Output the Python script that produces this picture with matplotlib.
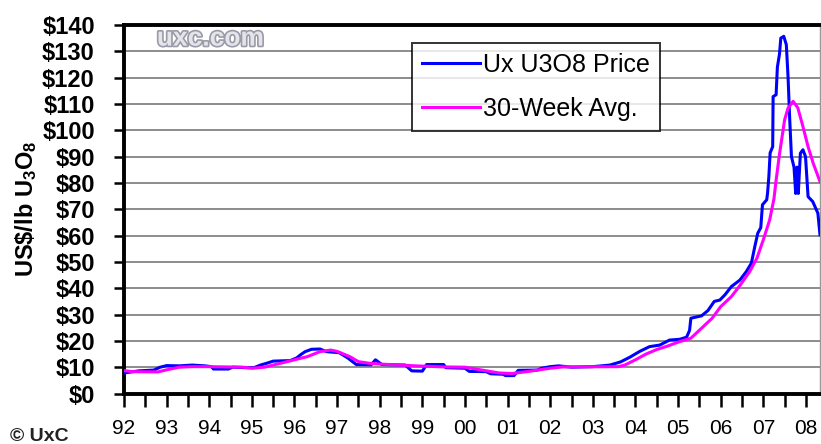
import matplotlib
matplotlib.use("Agg")
import matplotlib.pyplot as plt
import matplotlib.patheffects as pe
from matplotlib.ticker import FixedLocator, FuncFormatter

# Ux U3O8 weekly spot price, decimal year -> US$/lb
price_t = [1992.00, 1992.35, 1992.70, 1992.85, 1993.00, 1993.30, 1993.60, 1993.90,
           1994.05, 1994.10, 1994.45, 1994.55, 1994.90, 1995.05, 1995.20, 1995.35,
           1995.50, 1995.90, 1996.05, 1996.15, 1996.25, 1996.40, 1996.60, 1996.75,
           1997.05, 1997.25, 1997.45, 1997.80, 1997.90, 1998.05, 1998.60, 1998.75,
           1999.00, 1999.10, 1999.50, 1999.55, 2000.00, 2000.10, 2000.50, 2000.60,
           2000.90, 2000.95, 2001.15, 2001.25, 2001.70, 2001.80, 2002.00, 2002.20,
           2002.50, 2003.00, 2003.40, 2003.65, 2003.87, 2004.10, 2004.33, 2004.57,
           2004.80, 2005.04, 2005.20, 2005.27, 2005.30, 2005.55, 2005.70, 2005.85,
           2005.98, 2006.10, 2006.25, 2006.45, 2006.60, 2006.72, 2006.80, 2006.87,
           2006.94, 2006.98, 2007.08, 2007.10, 2007.13, 2007.16, 2007.22, 2007.23,
           2007.30, 2007.33, 2007.38, 2007.41, 2007.48, 2007.54, 2007.58, 2007.62,
           2007.66, 2007.72, 2007.76, 2007.79, 2007.82, 2007.87, 2007.93, 2007.99,
           2008.05, 2008.16, 2008.28, 2008.33]
price = [7.8, 8.6, 8.9, 10.0, 10.6, 10.5, 10.8, 10.5,
         10.2, 9.3, 9.3, 10.0, 9.8, 9.8, 10.8, 11.5,
         12.3, 12.5, 13.5, 14.8, 15.9, 16.8, 16.9, 15.9,
         15.5, 13.5, 11.0, 10.9, 12.8, 11.0, 10.8, 8.6,
         8.5, 11.0, 11.0, 9.8, 9.6, 8.4, 8.3, 7.5,
         7.3, 6.8, 6.8, 8.8, 8.9, 9.6, 10.2, 10.5,
         10.0, 10.2, 10.8, 12.0, 13.8, 16.0, 17.8, 18.4,
         20.3, 20.6, 21.4, 24.0, 28.6, 29.5, 31.5, 35.0,
         35.5, 37.5, 40.6, 43.1, 46.3, 49.5, 55.8, 60.9,
         63.0, 71.7, 73.6, 76.2, 82.4, 91.4, 93.8, 112.8,
         113.5, 124.0, 129.0, 135.0, 135.7, 132.5, 120.4, 104.0,
         90.0, 86.0, 76.0, 86.0, 76.0, 91.3, 92.6, 90.0,
         74.8, 72.9, 68.5, 60.3]

# 30-week moving average
avg_t = [1992.00, 1992.20, 1992.80, 1993.00, 1993.30, 1993.60, 1994.00, 1994.80,
         1995.00, 1995.30, 1995.50, 1995.80, 1996.00, 1996.30, 1996.60, 1996.85,
         1997.00, 1997.30, 1997.50, 1997.75, 1998.00, 1998.85, 1999.50, 2000.00,
         2000.40, 2000.80, 2001.10, 2001.50, 2001.70, 2002.00, 2002.30, 2003.60,
         2003.75, 2004.00, 2004.25, 2004.50, 2004.75, 2005.00, 2005.30, 2005.55,
         2005.80, 2006.00, 2006.25, 2006.45, 2006.68, 2006.85, 2007.00, 2007.15,
         2007.25, 2007.30, 2007.38, 2007.50, 2007.58, 2007.70, 2007.81, 2007.93,
         2008.05, 2008.17, 2008.33]
avg = [8.7, 8.3, 8.2, 9.0, 10.0, 10.2, 10.2, 10.0,
       9.6, 10.0, 10.8, 12.0, 12.8, 14.0, 15.9, 16.5,
       16.0, 14.0, 12.1, 11.5, 11.2, 10.5, 10.1, 10.0,
       8.9, 7.8, 7.6, 8.4, 8.9, 9.6, 10.1, 10.2,
       10.8, 12.8, 15.0, 16.7, 18.0, 19.5, 21.0, 24.8,
       28.6, 33.0, 36.8, 41.0, 46.3, 51.4, 58.4, 66.0,
       74.0, 81.0, 91.0, 104.0, 108.4, 111.0, 108.5, 101.4,
       93.8, 87.5, 80.5]

years = list(range(1992, 2009))
year_labels = [f"{y % 100:02d}" for y in years]
y_ticks = list(range(0, 141, 10))

plt.rcParams["font.family"] = ["Liberation Sans", "DejaVu Sans"]
plt.rcParams["mathtext.fontset"] = "custom"
plt.rcParams["mathtext.rm"] = "Liberation Sans:bold"
plt.rcParams["mathtext.default"] = "rm"

fig = plt.figure(figsize=(8.21, 4.44), dpi=100)
ax = fig.add_axes([124 / 821, 1 - 393.5 / 444, 696 / 821, 368.5 / 444])

ax.plot(price_t, price, color="#0000FF", lw=2.2, label="Ux U3O8 Price", zorder=3)
ax.plot(avg_t, avg, color="#FF00FF", lw=2.2, label="30-Week Avg.", zorder=4)

ax.set_xlim(1992, 2008.33)
ax.set_ylim(0, 140)

ax.yaxis.set_major_locator(FixedLocator(y_ticks))
ax.yaxis.set_major_formatter(FuncFormatter(lambda v, p: r"\$%d" % v))
ax.xaxis.set_major_locator(FixedLocator(years))
ax.set_xticklabels(year_labels)
ax.xaxis.set_minor_locator(FixedLocator([y + 0.5 for y in years[:-1]]))

ax.grid(axis="y", color="#8c8c8c", lw=1.4, zorder=1)
ax.set_axisbelow(True)

ax.tick_params(axis="y", direction="out", length=7, width=1.8, pad=14,
               labelsize=17)
for lab in ax.get_yticklabels():
    lab.set_fontweight("bold")
ax.tick_params(axis="x", which="both", direction="out", length=9, width=1.8,
               pad=9, labelsize=15)

for s in ["left", "top", "bottom"]:
    ax.spines[s].set_linewidth(2.8)
    ax.spines[s].set_color("black")
ax.spines["right"].set_linewidth(1)
ax.spines["right"].set_color("#999999")

ax.set_ylabel(r"US\$/lb U$_{3}$O$_{8}$", fontsize=17, fontweight="bold")
ax.yaxis.set_label_coords(-0.122, 0.5)

leg = ax.legend(loc="upper left", bbox_to_anchor=(0.4138, 0.951), borderaxespad=0,
                fontsize=18, frameon=True, fancybox=False, handlelength=2.3,
                handletextpad=0.15, labelspacing=0.8, borderpad=0.4)
leg.get_frame().set_edgecolor("black")
leg.get_frame().set_linewidth(1.4)
leg.set_zorder(5)

ax.text(0.124, 0.963, "uxc.com", transform=ax.transAxes, ha="center", va="center",
        fontsize=19, fontweight="bold", color="#e4e4ea",
        path_effects=[pe.withStroke(linewidth=2.4, foreground="#9a9aa8")])

fig.text(10 / 821, 1 - 436 / 444, "\u00a9 UxC", ha="left", va="center", fontsize=14,
         fontweight="bold", color="#222222")

fig.savefig("out.png", dpi=100)
